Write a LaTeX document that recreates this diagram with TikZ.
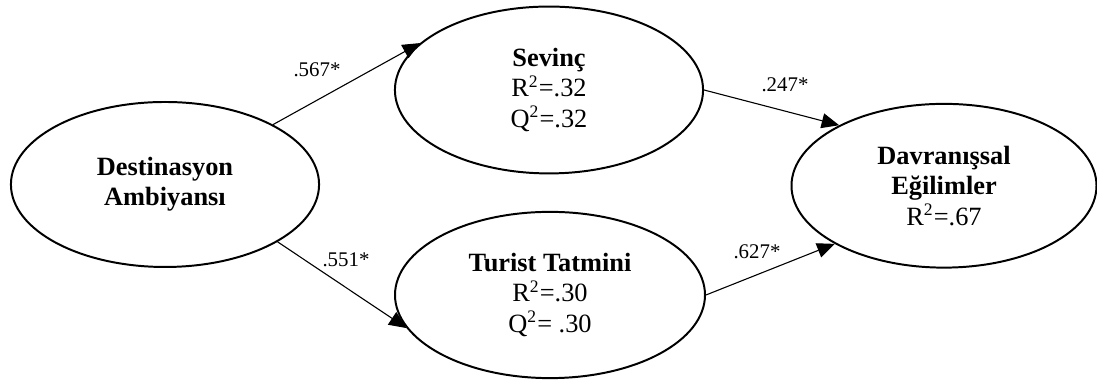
\documentclass[tikz,border=0pt]{standalone}
\usepackage{fontspec}
\setmainfont{Liberation Serif}
\usepackage{tikz}
\usetikzlibrary{arrows.meta, positioning, shapes.geometric}

\begin{document}
\begin{tikzpicture}[
			every node/.style={font=\fontsize{12}{13.8}\selectfont},
			latent/.style={draw, ellipse, line width=0.9pt, inner sep=0pt, align=center},
			arrow/.style={-{Triangle[length=0.28cm, width=0.24cm]}, line width=0.5pt},
			lbl/.style={font=\fontsize{9.5}{11}\selectfont, inner sep=1pt}
			]
			
			\useasboundingbox (0,0) rectangle (17.552,6.112);
			
			% Constructos
			\node[latent, minimum width=4.93cm, minimum height=2.64cm] (dest) at (2.64,3.16)
			{\textbf{Destinasyon}\\ \textbf{Ambiyansı}};
			
			\node[latent, minimum width=4.93cm, minimum height=2.67cm] (sev) at (8.784,4.672)
			{\textbf{Sevinç}\\ R\textsuperscript{2}=.32\\ Q\textsuperscript{2}=.32};
			
			\node[latent, minimum width=4.96cm, minimum height=2.66cm] (tur) at (8.8,1.392)
			{\textbf{Turist Tatmini}\\ R\textsuperscript{2}=.30\\ Q\textsuperscript{2}= .30};
			
			\node[latent, minimum width=4.88cm, minimum height=2.62cm] (davr) at (15.104,3.14)
			{\textbf{Davranışsal}\\ \textbf{Eğilimler}\\ R\textsuperscript{2}=.67};
			
			% Flechas
			\draw[arrow] (dest.29) -- (sev.160);
			\draw[arrow] (dest.333) -- (tur.193);
			\draw[arrow] (sev.east) -- (davr.150);
			\draw[arrow] (tur.east) -- (davr.208);
			
			% Coeficientes
			\node[lbl] (b1) at (5.072,4.992) {.567*};
			\node[lbl] (b2) at (5.536,1.952) {.551*};
			\node[lbl] (b3) at (12.56,4.752) {.247*};
			\node[lbl] (b4) at (12.112,2.08) {.627*};
			
		\end{tikzpicture}
\end{document}
